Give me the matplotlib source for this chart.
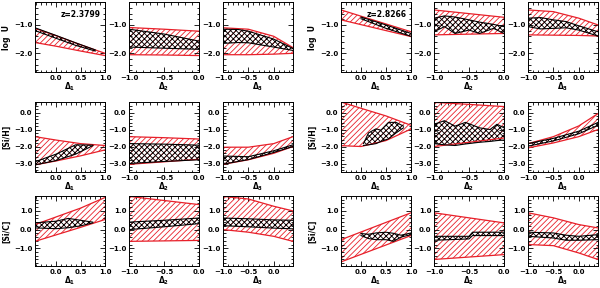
import numpy as np
import matplotlib
matplotlib.use('Agg')
import matplotlib.pyplot as plt
from matplotlib.ticker import MultipleLocator, AutoMinorLocator, FuncFormatter

plt.rcParams['font.family'] = 'DejaVu Sans'
plt.rcParams['font.weight'] = 'bold'
plt.rcParams['hatch.linewidth'] = 0.6

RED = '#e8202a'

# ---------------- z = 2.3799 (left block) ----------------
# log U vs Delta1
L11_x = [-0.43, 0.0, 0.5, 1.0]
L11_hi = [-1.12, -1.38, -1.70, -2.00]
L11_lo = [-1.62, -1.75, -1.92, -2.08]
L11_bx = [-0.43, 0.0, 0.4, 0.8]
L11_bhi = [-1.10, -1.37, -1.63, -1.88]
L11_blo = [-1.20, -1.47, -1.72, -1.92]
# log U vs Delta2
L12_x = [-1.0, -0.5, 0.0]
L12_hi = [-1.09, -1.15, -1.22]
L12_lo = [-2.05, -2.06, -2.08]
L12_bx = [-1.0, -0.5, 0.0]
L12_bhi = [-1.15, -1.32, -1.57]
L12_blo = [-1.78, -1.82, -1.86]
# log U vs Delta3
L13_x = [-1.0, -0.5, 0.0, 0.38]
L13_hi = [-1.10, -1.15, -1.40, -1.80]
L13_lo = [-2.05, -2.05, -2.03, -2.00]
L13_bx = [-1.0, -0.7, -0.5, 0.0, 0.38]
L13_bhi = [-1.15, -1.16, -1.22, -1.50, -1.83]
L13_blo = [-1.65, -1.62, -1.63, -1.78, -1.90]
# [Si/H] vs Delta1
L21_x = [-0.43, 0.0, 0.5, 1.0]
L21_hi = [-1.42, -1.62, -1.83, -1.94]
L21_lo = [-3.08, -2.85, -2.55, -2.20]
L21_bx = [-0.43, 0.0, 0.4, 0.75]
L21_bhi = [-2.90, -2.45, -1.90, -1.92]
L21_blo = [-3.08, -2.83, -2.45, -1.95]
# [Si/H] vs Delta2
L22_x = [-1.0, -0.5, 0.0]
L22_hi = [-1.42, -1.48, -1.56]
L22_lo = [-3.05, -2.90, -2.75]
L22_bx = [-1.0, -0.5, 0.0]
L22_bhi = [-1.83, -1.86, -1.92]
L22_blo = [-3.00, -2.88, -2.78]
# [Si/H] vs Delta3
L23_x = [-1.0, -0.5, 0.0, 0.38]
L23_hi = [-2.04, -2.04, -1.83, -1.42]
L23_lo = [-3.05, -2.78, -2.40, -2.00]
L23_bx = [-1.0, -0.5, 0.0, 0.38]
L23_bhi = [-2.56, -2.60, -2.25, -1.90]
L23_blo = [-3.04, -2.77, -2.35, -2.00]
# [Si/C] vs Delta1
L31_x = [-0.43, 0.5, 1.0]
L31_hi = [0.27, 1.15, 1.72]
L31_lo = [-0.63, 0.12, 0.54]
L31_bx = [-0.43, 0.0, 0.25, 0.5, 0.75]
L31_bhi = [0.36, 0.45, 0.60, 0.50, 0.40]
L31_blo = [0.09, 0.05, 0.10, 0.20, 0.36]
# [Si/C] vs Delta2
L32_x = [-1.0, 0.0]
L32_hi = [1.78, 1.34]
L32_lo = [-0.63, -0.58]
L32_bx = [-1.0, -0.5, 0.0]
L32_bhi = [0.40, 0.50, 0.62]
L32_blo = [0.00, 0.15, 0.32]
# [Si/C] vs Delta3
L33_x = [-1.0, -0.5, 0.0, 0.38]
L33_hi = [1.78, 1.64, 1.25, 1.00]
L33_lo = [0.00, -0.14, -0.36, -0.63]
L33_bx = [-1.0, -0.5, 0.0, 0.38]
L33_bhi = [0.62, 0.58, 0.52, 0.50]
L33_blo = [0.21, 0.15, 0.08, 0.04]

# ---------------- z = 2.8266 (right block) ----------------
R11_x = [-0.4, 1.0]
R11_hi = [-0.47, -1.24]
R11_lo = [-0.82, -1.41]
R11_bx = [0.0, 0.5, 1.0]
R11_bhi = [-0.72, -1.00, -1.30]
R11_blo = [-0.78, -1.12, -1.40]

R12_x = [-1.0, 0.0]
R12_hi = [-0.47, -0.73]
R12_lo = [-1.35, -1.30]
R12_bx = [-1.0, -0.85, -0.7, -0.5, -0.35, -0.15, 0.0]
R12_bhi = [-0.76, -0.68, -0.72, -0.82, -0.90, -0.98, -1.06]
R12_blo = [-1.24, -1.06, -1.30, -1.18, -1.30, -1.12, -1.30]

R13_x = [-1.0, -0.5, 0.0, 0.38]
R13_hi = [-0.47, -0.53, -0.76, -1.00]
R13_lo = [-1.35, -1.36, -1.37, -1.39]
R13_bx = [-1.0, -0.75, -0.5, -0.25, 0.0, 0.38]
R13_bhi = [-0.76, -0.74, -0.82, -0.88, -1.03, -1.24]
R13_blo = [-1.06, -1.14, -1.12, -1.10, -1.18, -1.39]

R21_x = [-0.4, 0.0, 0.5, 1.0]
R21_hi = [0.62, 0.25, -0.20, -0.75]
R21_lo = [-1.95, -2.00, -1.65, -0.97]
R21_bx = [0.05, 0.15, 0.3, 0.4, 0.55, 0.7, 0.85]
R21_bhi = [-1.83, -1.20, -0.96, -1.04, -0.58, -0.58, -0.80]
R21_blo = [-1.94, -1.90, -1.83, -1.70, -1.55, -1.20, -0.90]

R22_x = [-1.0, -0.5, 0.0]
R22_hi = [0.60, 0.48, 0.35]
R22_lo = [-2.00, -1.75, -1.50]
R22_bx = [-1.0, -0.85, -0.7, -0.55, -0.35, -0.2, -0.1, 0.0]
R22_bhi = [-0.69, -0.48, -0.80, -0.58, -0.90, -1.00, -0.69, -0.90]
R22_blo = [-1.83, -1.90, -1.94, -1.85, -1.75, -1.70, -1.65, -1.62]

R23_x = [-1.0, -0.5, 0.0, 0.38]
R23_hi = [-1.83, -1.42, -0.79, -0.06]
R23_lo = [-2.08, -1.79, -1.42, -1.00]
R23_bx = [-1.0, -0.5, 0.0, 0.38]
R23_bhi = [-1.83, -1.52, -1.10, -0.58]
R23_blo = [-1.98, -1.67, -1.25, -0.75]

R31_x = [-0.4, 1.0]
R31_hi = [-0.54, 0.90]
R31_lo = [-1.73, -0.32]
R31_bx = [0.0, 0.15, 0.3, 0.5, 0.65, 0.8, 1.0]
R31_bhi = [-0.21, -0.25, -0.18, -0.14, -0.20, -0.30, -0.18]
R31_blo = [-0.32, -0.48, -0.54, -0.54, -0.63, -0.40, -0.27]

R32_x = [-1.0, 0.0]
R32_hi = [0.90, 0.36]
R32_lo = [-1.60, -1.34]
R32_bx = [-1.0, -0.5, -0.45, 0.0]
R32_bhi = [-0.36, -0.36, -0.14, -0.14]
R32_blo = [-0.57, -0.50, -0.32, -0.32]

R33_x = [-1.0, -0.5, 0.0, 0.38]
R33_hi = [0.90, 0.63, 0.27, 0.09]
R33_lo = [-0.80, -0.86, -1.25, -1.60]
R33_bx = [-1.0, -0.5, -0.25, 0.0, 0.38]
R33_bhi = [-0.14, -0.18, -0.30, -0.36, -0.27]
R33_blo = [-0.36, -0.45, -0.57, -0.57, -0.54]

redshifts = ['z=2.3799', 'z=2.8266']
ylabels = ['log  U', '[Si/H]', '[Si/C]']
xlabels = [r'$\mathbf{\Delta_1}$', r'$\mathbf{\Delta_2}$', r'$\mathbf{\Delta_3}$']
ylims = [(-2.66, -0.19), (-3.5, 0.62), (-1.95, 1.8)]

panels = [
    [[(L11_x, L11_hi, L11_lo, L11_bx, L11_bhi, L11_blo),
      (L12_x, L12_hi, L12_lo, L12_bx, L12_bhi, L12_blo),
      (L13_x, L13_hi, L13_lo, L13_bx, L13_bhi, L13_blo)],
     [(L21_x, L21_hi, L21_lo, L21_bx, L21_bhi, L21_blo),
      (L22_x, L22_hi, L22_lo, L22_bx, L22_bhi, L22_blo),
      (L23_x, L23_hi, L23_lo, L23_bx, L23_bhi, L23_blo)],
     [(L31_x, L31_hi, L31_lo, L31_bx, L31_bhi, L31_blo),
      (L32_x, L32_hi, L32_lo, L32_bx, L32_bhi, L32_blo),
      (L33_x, L33_hi, L33_lo, L33_bx, L33_bhi, L33_blo)]],
    [[(R11_x, R11_hi, R11_lo, R11_bx, R11_bhi, R11_blo),
      (R12_x, R12_hi, R12_lo, R12_bx, R12_bhi, R12_blo),
      (R13_x, R13_hi, R13_lo, R13_bx, R13_bhi, R13_blo)],
     [(R21_x, R21_hi, R21_lo, R21_bx, R21_bhi, R21_blo),
      (R22_x, R22_hi, R22_lo, R22_bx, R22_bhi, R22_blo),
      (R23_x, R23_hi, R23_lo, R23_bx, R23_bhi, R23_blo)],
     [(R31_x, R31_hi, R31_lo, R31_bx, R31_bhi, R31_blo),
      (R32_x, R32_hi, R32_lo, R32_bx, R32_bhi, R32_blo),
      (R33_x, R33_hi, R33_lo, R33_bx, R33_bhi, R33_blo)]],
]


def fmt(v, pos):
    s = '%.1f' % v
    if s == '-0.0':
        s = '0.0'
    return s.replace('-', '\u2212')


W, H = 600, 288
fig = plt.figure(figsize=(6, 2.88), dpi=100)

col_left = [[35, 129, 223], [341, 434, 528]]
row_top = [2, 102, 196]
pw, ph = 70, 70

for g in range(2):
    xlims = [(-0.43 if g == 0 else -0.4, 1.0), (-1.0, 0.0), (-1.0, 0.38)]
    for r in range(3):
        for c in range(3):
            x0 = col_left[g][c]
            ax = fig.add_axes([x0 / W, 1 - (row_top[r] + ph) / H, pw / W, ph / H])
            rx, rhi, rlo, bx, bhi, blo = panels[g][r][c]
            ax.fill_between(rx, rlo, rhi, facecolor='none', edgecolor=RED,
                            hatch='//////', lw=0)
            ax.plot(rx, rhi, color=RED, lw=0.9)
            ax.plot(rx, rlo, color=RED, lw=0.9)
            ax.fill_between(bx, blo, bhi, facecolor='none', edgecolor='black',
                            hatch='xxxxxx', lw=0)
            ax.plot(bx, bhi, color='black', lw=0.8)
            ax.plot(bx, blo, color='black', lw=0.8)

            ax.set_xlim(*xlims[c])
            ax.set_ylim(*ylims[r])
            ax.xaxis.set_major_locator(MultipleLocator(0.5))
            ax.xaxis.set_minor_locator(AutoMinorLocator(5))
            ax.yaxis.set_major_locator(MultipleLocator(1.0))
            ax.yaxis.set_minor_locator(AutoMinorLocator(5))
            ax.xaxis.set_major_formatter(FuncFormatter(fmt))
            ax.yaxis.set_major_formatter(FuncFormatter(fmt))
            ax.tick_params(which='both', direction='in', top=True, right=True,
                           labelsize=5, pad=2, width=0.6)
            ax.tick_params(which='major', length=3.5)
            ax.tick_params(which='minor', length=1.8)
            for lab in ax.get_xticklabels() + ax.get_yticklabels():
                lab.set_fontweight('bold')
            for sp in ax.spines.values():
                sp.set_linewidth(0.7)
            ax.set_xlabel(xlabels[c], fontsize=5.5, labelpad=0)
            if c == 0:
                ax.set_ylabel(ylabels[r], fontsize=5.5, fontweight='bold', labelpad=2)
            if r == 0 and c == 0:
                ax.text(0.94, 0.82, redshifts[g], transform=ax.transAxes,
                        ha='right', va='center', fontsize=5.5, fontweight='bold')

fig.savefig('out.png', dpi=100)
